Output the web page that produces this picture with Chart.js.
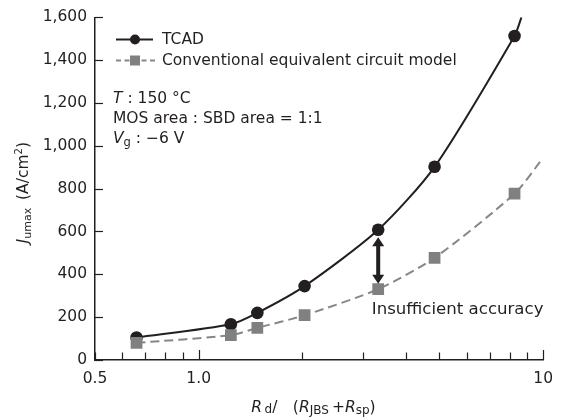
<!DOCTYPE html>
<html>
<head>
<meta charset="utf-8">
<script src="https://cdn.jsdelivr.net/npm/chart.js@4.4.1/dist/chart.umd.min.js"></script>
<style>
  html, body { margin: 0; padding: 0; background: #fff; }
  #wrap { width: 563px; height: 420px; }
</style>
</head>
<body>
<div id="wrap"><canvas id="jmax-chart" width="563" height="420"></canvas></div>
<script>
// Rd / (RJBS + Rsp) of each simulated structure
const rdRatio = [0.66, 1.24, 1.48, 2.03, 3.32, 4.84, 8.26];
// Jumax (A/cm2)
const tcadJ = [105, 167, 220, 345, 608, 902, 1513];
const convJ = [80, 116, 150, 209, 331, 477, 777];
// where each curve runs off the plot
const tcadTail = [8.65, 1600];
const convTail = [10, 944];

const xTicks = [0.5, 0.6, 0.7, 0.8, 0.9, 1, 2, 3, 4, 5, 6, 7, 8, 9, 10];
const xTickLabels = { 0.5: '0.5', 1: '1.0', 10: '10' };
const yTicks = [0, 200, 400, 600, 800, 1000, 1200, 1400, 1600];

// gap arrow at the 5th structure, and its label
const arrowX = 3.32;
const arrowTop = 573;
const arrowBottom = 356;
const gapLabel = 'Insufficient accuracy';
const gapLabelAt = [3.18, 214];

const FONT = '"DejaVu Sans", Verdana, sans-serif';
const FS = 15.5;
const INK = '#231f20';
const GREY = '#808080';
const GREY_LINE = '#878787';

function font(size, italic) {
  return (italic ? 'italic ' : '') + size + 'px ' + FONT;
}

// draw a row of text pieces (italic / sub / sup) one after another
function drawRuns(ctx, x, y, runs, align) {
  var total = 0;
  runs.forEach(function(r) {
    ctx.font = font(r.size || FS, r.italic);
    r.w = ctx.measureText(r.text).width;
    total += r.w;
  });
  var cx = align == 'center' ? x - total / 2 : x;
  runs.forEach(function(r) {
    ctx.font = font(r.size || FS, r.italic);
    ctx.fillText(r.text, cx, y + (r.dy || 0));
    cx += r.w;
  });
}

var tcadData = rdRatio.map((x, i) => ({ x: x, y: tcadJ[i] }));
tcadData.push({ x: tcadTail[0], y: tcadTail[1] });
var convData = rdRatio.map((x, i) => ({ x: x, y: convJ[i] }));
convData.push({ x: convTail[0], y: convTail[1] });

var extras = {
  id: 'extras',
  afterDatasetsDraw(chart) {
    var ctx = chart.ctx;
    var xs = chart.scales.x, ys = chart.scales.y;
    var area = chart.chartArea;
    ctx.save();

    // inward tick marks
    ctx.strokeStyle = INK;
    ctx.lineWidth = 1.2;
    xTicks.forEach(function(v) {
      var px = Math.round(xs.getPixelForValue(v)) + 0.5;
      var len = (v == 1 || v == 10) ? 10 : 7.5;
      ctx.beginPath();
      ctx.moveTo(px, area.bottom);
      ctx.lineTo(px, area.bottom - len);
      ctx.stroke();
    });
    yTicks.forEach(function(v) {
      var py = Math.round(ys.getPixelForValue(v)) + 0.5;
      ctx.beginPath();
      ctx.moveTo(area.left, py);
      ctx.lineTo(area.left + 8, py);
      ctx.stroke();
    });

    // double headed arrow
    var ax = xs.getPixelForValue(arrowX);
    var at = ys.getPixelForValue(arrowTop);
    var ab = ys.getPixelForValue(arrowBottom);
    var head = 9, half = 6;
    ctx.fillStyle = INK;
    ctx.fillRect(ax - 2, at + head - 1, 4, ab - at - 2 * head + 2);
    ctx.beginPath();
    ctx.moveTo(ax, at);
    ctx.lineTo(ax - half, at + head);
    ctx.lineTo(ax + half, at + head);
    ctx.closePath();
    ctx.fill();
    ctx.beginPath();
    ctx.moveTo(ax, ab);
    ctx.lineTo(ax - half, ab - head);
    ctx.lineTo(ax + half, ab - head);
    ctx.closePath();
    ctx.fill();

    ctx.textBaseline = 'alphabetic';
    ctx.fillStyle = INK;
    ctx.font = font(16.6);
    ctx.fillText(gapLabel, xs.getPixelForValue(gapLabelAt[0]), ys.getPixelForValue(gapLabelAt[1]));

    // legend
    var lx = area.left + 21;
    var r1 = 39.5, r2 = 60.5;
    ctx.strokeStyle = INK;
    ctx.lineWidth = 2;
    ctx.beginPath();
    ctx.moveTo(lx, r1);
    ctx.lineTo(lx + 37, r1);
    ctx.stroke();
    ctx.beginPath();
    ctx.arc(lx + 19, r1, 5, 0, Math.PI * 2);
    ctx.fill();
    ctx.strokeStyle = GREY_LINE;
    ctx.setLineDash([5, 3.5]);
    ctx.beginPath();
    ctx.moveTo(lx, r2);
    ctx.lineTo(lx + 39, r2);
    ctx.stroke();
    ctx.setLineDash([]);
    ctx.fillStyle = GREY;
    ctx.fillRect(lx + 14, r2 - 5, 10, 10);
    ctx.fillStyle = INK;
    ctx.textBaseline = 'middle';
    ctx.font = font(FS);
    ctx.fillText('TCAD', lx + 46, r1);
    ctx.fillText('Conventional equivalent circuit model', lx + 46, r2);

    // conditions
    ctx.textBaseline = 'alphabetic';
    var nx = area.left + 18;
    drawRuns(ctx, nx, 102.5, [{ text: 'T', italic: true }, { text: ' : 150 \u00b0C' }]);
    drawRuns(ctx, nx, 122.5, [{ text: 'MOS area : SBD area = 1:1' }]);
    drawRuns(ctx, nx, 142.5, [
      { text: 'V', italic: true },
      { text: 'g', size: 11.5, dy: 3.5 },
      { text: ' : \u22126 V' }
    ]);

    // x axis title
    drawRuns(ctx, 313.5, 411.5, [
      { text: 'R', italic: true },
      { text: '\u2009d', size: 12, dy: 1.5 },
      { text: '/\u2003(' },
      { text: 'R', italic: true },
      { text: 'JBS', size: 12, dy: 2 },
      { text: '\u2009+' },
      { text: 'R', italic: true },
      { text: 'sp', size: 12, dy: 2 },
      { text: ')' }
    ], 'center');

    // y axis title
    ctx.translate(28, (area.top + area.bottom) / 2 + 4);
    ctx.rotate(-Math.PI / 2);
    drawRuns(ctx, 0, 0, [
      { text: 'J', italic: true },
      { text: 'umax', size: 11, dy: 3 },
      { text: '\u2002(A/cm' },
      { text: '2', size: 10, dy: -6 },
      { text: ')' }
    ], 'center');

    ctx.restore();
  }
};

var ctx = document.getElementById('jmax-chart').getContext('2d');
var chart = new Chart(ctx, {
  type: 'line',
  data: {
    datasets: [
      {
        label: 'Conventional equivalent circuit model',
        data: convData,
        borderColor: GREY_LINE,
        borderWidth: 2,
        borderDash: [9, 5],
        backgroundColor: GREY,
        pointStyle: 'rect',
        pointRadius: convData.map((p, i) => i < rdRatio.length ? 8.3 : 0),
        pointBorderWidth: 0,
        pointBackgroundColor: GREY,
        tension: 0.25,
        order: 1
      },
      {
        label: 'TCAD',
        data: tcadData,
        borderColor: INK,
        borderWidth: 2,
        backgroundColor: INK,
        pointStyle: 'circle',
        pointRadius: tcadData.map((p, i) => i < rdRatio.length ? 6.3 : 0),
        pointBorderWidth: 0,
        pointBackgroundColor: INK,
        tension: 0.25,
        order: 2
      }
    ]
  },
  options: {
    responsive: false,
    animation: false,
    devicePixelRatio: 1,
    layout: { padding: { left: 0, top: 15.5, right: 18, bottom: 0 } },
    scales: {
      x: {
        type: 'logarithmic',
        min: 0.5,
        max: 10,
        afterFit: function(scale) { scale.height = 60; },
        afterBuildTicks: function(scale) {
          scale.ticks = xTicks.map(v => ({ value: v }));
        },
        grid: { display: false, drawTicks: false },
        border: { display: true, color: INK, width: 1.5 },
        ticks: {
          autoSkip: false,
          maxRotation: 0,
          minRotation: 0,
          padding: 10,
          color: INK,
          font: { family: FONT, size: FS },
          callback: function(value) {
            return xTickLabels[value] || '';
          }
        }
      },
      y: {
        min: 0,
        max: 1600,
        afterFit: function(scale) { scale.width = 95; },
        grid: { display: false, drawTicks: false },
        border: { display: true, color: INK, width: 1.5 },
        ticks: {
          stepSize: 200,
          padding: 8,
          color: INK,
          font: { family: FONT, size: FS },
          callback: function(value) {
            return value.toLocaleString('en-US');
          }
        }
      }
    },
    plugins: {
      legend: { display: false },
      tooltip: { enabled: false }
    }
  },
  plugins: [extras]
});
</script>
</body>
</html>
